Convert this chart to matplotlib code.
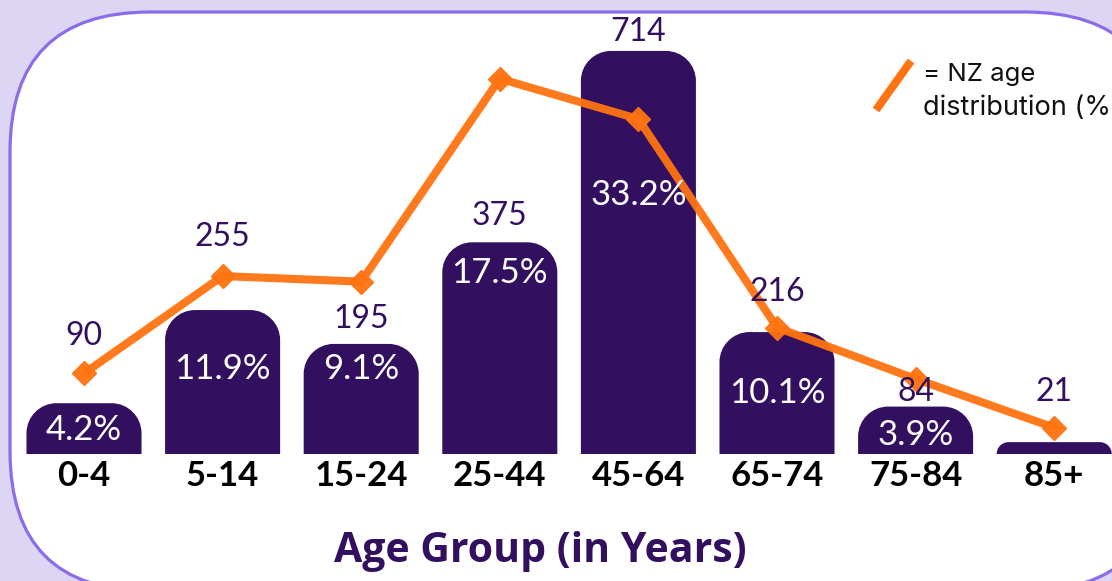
import matplotlib.pyplot as plt
from matplotlib.patches import FancyBboxPatch, PathPatch
from matplotlib.path import Path
from matplotlib.lines import Line2D
from matplotlib.transforms import IdentityTransform
import numpy as np

# data
age_groups = ["0-4", "5-14", "15-24", "25-44", "45-64", "65-74", "75-84", "85+"]
counts = [90, 255, 195, 375, 714, 216, 84, 21]
count_share = ["4.2%", "11.9%", "9.1%", "17.5%", "33.2%", "10.1%", "3.9%", ""]
nz_share = [5.8, 12.8, 12.4, 27.0, 24.1, 9.1, 5.4, 1.9]

# hand placed label heights (in count units), like in the original
count_label_y = [209, 384, 239, 422, 747, 287, 110, 110]
share_label_y = [42, 151, 151, 321, 459, 108, 34, 0]

BG = "#dcd6f4"
EDGE = "#8c6ce8"
BAR = "#32105f"
ORANGE = "#ff7311"
TXT = "#32105f"

W, H = 1112, 581
fig = plt.figure(figsize=(W / 100, H / 100), dpi=100)
fig.patch.set_facecolor(BG)

# white rounded panel, partly running off the right and bottom edges
panel = FancyBboxPatch((10, -10), 1155, 579,
                       boxstyle="round,pad=0,rounding_size=140",
                       facecolor="white", edgecolor=EDGE, linewidth=2.3,
                       transform=IdentityTransform(), zorder=0)
fig.add_artist(panel)

base_px = 454
top_px = 20
ax = fig.add_axes([0, (H - base_px) / H, 1, (base_px - top_px) / H])
ax.set_facecolor("none")
step = 138.6
ax.set_xlim(-84 / step, -84 / step + W / step)
ax.set_ylim(0, (base_px - top_px) / 0.5645)
for s in ax.spines.values():
    s.set_visible(False)
ax.set_yticks([])

x = np.arange(len(age_groups))
bars = ax.bar(x, counts, width=0.83, color=BAR, zorder=2)

# swap plain bars for ones with rounded top corners (drawn in pixels)
k = 0.5523
for b in bars:
    (x0, y0), (x1, y1) = ax.transData.transform(
        [(b.get_x(), 0), (b.get_x() + b.get_width(), b.get_height())])
    b.set_visible(False)
    r = min(30, y1 - y0)
    verts = [(x0, y0), (x0, y1 - r),
             (x0, y1 - r + k * r), (x0 + r - k * r, y1), (x0 + r, y1),
             (x1 - r, y1),
             (x1 - r + k * r, y1), (x1, y1 - r + k * r), (x1, y1 - r),
             (x1, y0), (x0, y0)]
    codes = [Path.MOVETO, Path.LINETO,
             Path.CURVE4, Path.CURVE4, Path.CURVE4,
             Path.LINETO,
             Path.CURVE4, Path.CURVE4, Path.CURVE4,
             Path.LINETO, Path.CLOSEPOLY]
    p = PathPatch(Path(verts, codes), facecolor=BAR, edgecolor="none",
                  transform=IdentityTransform(), zorder=2)
    ax.add_patch(p)

ax.set_xticks(x, age_groups)
ax.tick_params(axis="x", length=0, pad=4)
for lab in ax.get_xticklabels():
    lab.set_fontfamily("Lato")
    lab.set_fontweight("bold")
    lab.set_fontsize(25)
    lab.set_color("black")

# NZ distribution line on its own scale
ax2 = ax.twinx()
ax2.set_ylim(0, (base_px - top_px) / 13.9)
ax2.set_facecolor("none")
for s in ax2.spines.values():
    s.set_visible(False)
ax2.set_yticks([])
ax2.plot(x, nz_share, color=ORANGE, lw=5.8, marker="D", markersize=12,
         alpha=0.95, zorder=3)

for i in range(len(age_groups)):
    ax2.text(x[i], count_label_y[i], str(counts[i]), transform=ax.transData,
             ha="center", va="center", fontsize=23, family="Lato",
             fontweight="normal", color=TXT, zorder=5)
    if count_share[i]:
        ax2.text(x[i], share_label_y[i], count_share[i], transform=ax.transData,
                 ha="center", va="center", fontsize=25, family="Lato",
                 fontweight="normal", color="white", zorder=5)

# little legend in the corner
fig.add_artist(Line2D([876 / W, 911 / W], [1 - 110 / H, 1 - 61 / H],
                      color=ORANGE, lw=5.8, solid_capstyle="butt"))
fig.text(923 / W, 1 - 75 / H, "= NZ age", ha="left", va="center",
         fontsize=18.5, family="Inter", color="#111111")
fig.text(923 / W, 1 - 108 / H, "distribution (%)", ha="left", va="center",
         fontsize=19.5, family="Inter", color="#111111")

fig.text(540 / W, 1 - 552 / H, "Age Group (in Years)", ha="center", va="center",
         fontsize=29.5, family="Open Sans", fontweight="bold", color=TXT)

fig.savefig("out.png", dpi=100, facecolor=BG)
